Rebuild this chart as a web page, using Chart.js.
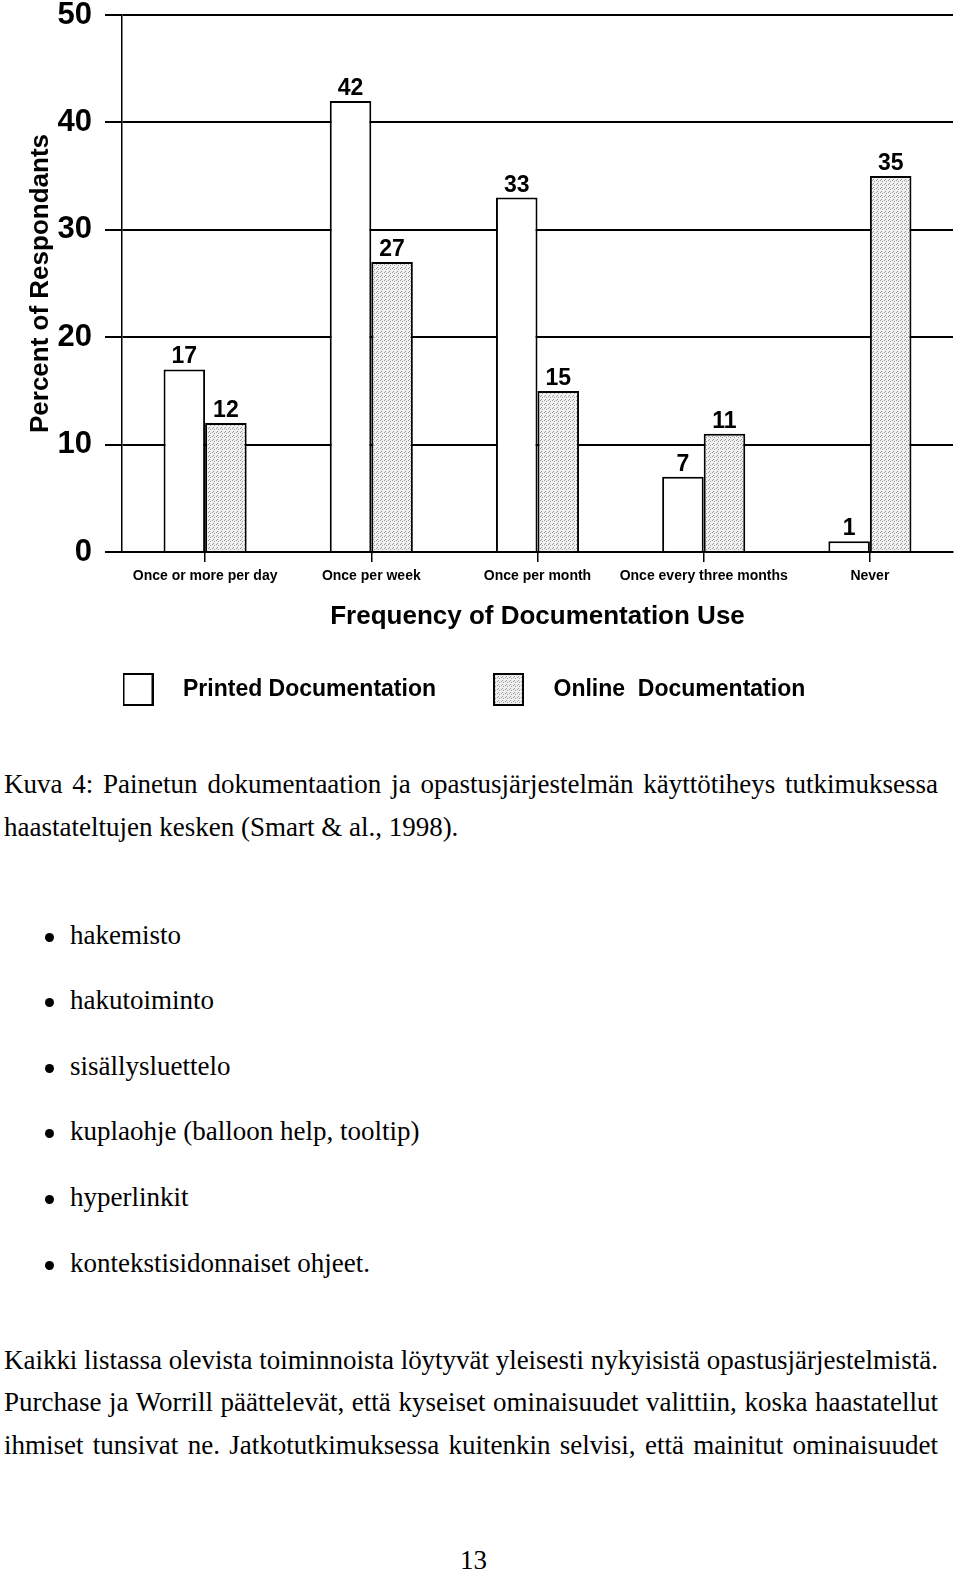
<!DOCTYPE html>
<html>
<head>
<meta charset="utf-8">
<script src="https://cdn.jsdelivr.net/npm/chart.js@4.4.0/dist/chart.umd.min.js"></script>
<style>
html,body{margin:0;padding:0;background:#fff;}
body{width:960px;height:1574px;position:relative;overflow:hidden;font-family:"Liberation Serif","Times New Roman",serif;color:#000;}
#c{position:absolute;left:0;top:0;}
.t{position:absolute;font-size:27px;line-height:27px;white-space:nowrap;}
.j{display:inline-block;}
.dot{position:absolute;width:9px;height:9px;border-radius:50%;background:#000;left:45px;}
</style>
</head>
<body>
<canvas id="c" width="960" height="711"></canvas>

<div class="t j" style="left:4px;top:771px;">Kuva 4: Painetun dokumentaation ja opastusjärjestelmän käyttötiheys tutkimuksessa</div>
<div class="t" style="left:4px;top:814px;">haastateltujen kesken (Smart &amp; al., 1998).</div>

<div class="dot" style="top:933px;"></div><div class="t" style="left:70px;top:922px;">hakemisto</div>
<div class="dot" style="top:998px;"></div><div class="t" style="left:70px;top:987px;">hakutoiminto</div>
<div class="dot" style="top:1064px;"></div><div class="t" style="left:70px;top:1053px;">sisällysluettelo</div>
<div class="dot" style="top:1129px;"></div><div class="t" style="left:70px;top:1118px;">kuplaohje (balloon help, tooltip)</div>
<div class="dot" style="top:1195px;"></div><div class="t" style="left:70px;top:1184px;">hyperlinkit</div>
<div class="dot" style="top:1261px;"></div><div class="t" style="left:70px;top:1250px;">kontekstisidonnaiset ohjeet.</div>

<div class="t j" style="left:4px;top:1347px;">Kaikki listassa olevista toiminnoista löytyvät yleisesti nykyisistä opastusjärjestelmistä.</div>
<div class="t j" style="left:4px;top:1389px;">Purchase ja Worrill päättelevät, että kyseiset ominaisuudet valittiin, koska haastatellut</div>
<div class="t j" style="left:4px;top:1432px;">ihmiset tunsivat ne. Jatkotutkimuksessa kuitenkin selvisi, että mainitut ominaisuudet</div>

<div class="t" style="left:460px;top:1547px;">13</div>

<script>
// ---- data ----
const categories = ['Once or more per day', 'Once per week', 'Once per month', 'Once every three months', 'Never'];
const printedValues = [17, 42, 33, 7, 1];
const onlineValues = [12, 27, 15, 11, 35];
const seriesNames = ['Printed Documentation', 'Online  Documentation'];
const yTicks = [0, 10, 20, 30, 40, 50];
const xTitle = 'Frequency of Documentation Use';
const yTitle = 'Percent of Respondants';

// ---- justify full text lines to the text width ----
const LINE_W = 934;
document.querySelectorAll('.j').forEach(el => {
  const w = el.getBoundingClientRect().width;
  const n = (el.textContent.match(/ /g) || []).length;
  if (w <= LINE_W) {
    el.style.wordSpacing = ((LINE_W - w) / n) + 'px';
  } else {
    el.style.transformOrigin = '0 0';
    el.style.transform = 'scaleX(' + (LINE_W / w) + ')';
  }
});

// ---- fonts ----
const mc = document.createElement('canvas').getContext('2d');
mc.font = 'bold 40px "Liberation Sans Narrow", monospace';
const wN = mc.measureText('Documentation').width;
mc.font = 'bold 40px monospace';
const wM = mc.measureText('Documentation').width;
const hasNarrow = Math.abs(wN - wM) > 1;
const SANS = "'Liberation Sans', Arial, Helvetica, sans-serif";
const NARROW = hasNarrow ? "'Liberation Sans Narrow', 'Liberation Sans', Arial, sans-serif" : SANS;
const legendSize = hasNarrow ? 28 : 23;
const xLabelSize = hasNarrow ? 16.5 : 14;

// ---- styles ----
const canvas = document.getElementById('c');
const ctx = canvas.getContext('2d');
function stippleTile() {
  const t = document.createElement('canvas');
  t.width = 4; t.height = 4;
  const g = t.getContext('2d');
  g.fillStyle = '#f0f0f0'; g.fillRect(0, 0, 4, 4);
  g.fillStyle = '#999999';
  g.fillRect(0, 0, 1, 1); g.fillRect(2, 1, 1, 1); g.fillRect(1, 3, 1, 1);
  return t;
}
const tile = stippleTile();
const stipple = ctx.createPattern(tile, 'repeat');
function legendIcon(kind) {
  const c = document.createElement('canvas');
  c.width = 31; c.height = 33;
  const g = c.getContext('2d');
  g.fillStyle = kind === 'pattern' ? g.createPattern(tile, 'repeat') : '#fff';
  g.fillRect(1, 1, 29, 31);
  g.lineWidth = 2; g.strokeStyle = '#000';
  g.strokeRect(1, 1, 29, 31);
  return c;
}
const legendIcons = [legendIcon('white'), legendIcon('pattern')];

const CANVAS_H = 711;
const legendPad = 39;
const legendBoxW = 90 - legendSize;
const legendLeft = 123 + 15 - legendBoxW / 2 - legendPad;
const xScaleH = (CANVAS_H - legendSize - legendPad - 10) - 552;

const valueLabels = {
  id: 'valueLabels',
  afterDatasetsDraw(chart) {
    const g = chart.ctx;
    g.save();
    g.font = 'bold 23px ' + SANS;
    g.fillStyle = '#000';
    g.textAlign = 'center';
    g.textBaseline = 'alphabetic';
    chart.data.datasets.forEach((ds, i) => {
      chart.getDatasetMeta(i).data.forEach((el, j) => {
        g.fillText(String(ds.data[j]), el.x, el.y - 6);
      });
    });
    g.restore();
  }
};
const legendPlace = {
  id: 'legendPlace',
  afterLayout(chart) { chart.legend.left = legendLeft; }
};

new Chart(canvas, {
  type: 'bar',
  data: {
    labels: categories,
    datasets: [
      { label: seriesNames[0], data: printedValues, backgroundColor: '#fff', borderColor: '#000', borderWidth: 2 },
      { label: seriesNames[1], data: onlineValues, backgroundColor: stipple, borderColor: '#000', borderWidth: 2 }
    ]
  },
  options: {
    responsive: false,
    devicePixelRatio: 1,
    animation: false,
    datasets: { bar: { categoryPercentage: 0.5, barPercentage: 1.0 } },
    layout: { padding: { top: 15, right: 7, left: 0, bottom: 0 } },
    plugins: {
      tooltip: { enabled: false },
      legend: {
        position: 'bottom',
        align: 'start',
        labels: {
          usePointStyle: true,
          pointStyleWidth: legendBoxW,
          padding: legendPad,
          color: '#000',
          font: { family: NARROW, size: legendSize, weight: 'bold' },
          generateLabels(chart) {
            const items = Chart.defaults.plugins.legend.labels.generateLabels(chart);
            items.forEach((it, i) => { it.pointStyle = legendIcons[i]; });
            return items;
          }
        }
      }
    },
    scales: {
      x: {
        afterFit(s) { s.height = xScaleH; },
        grid: { display: true, drawOnChartArea: false, drawTicks: true, tickLength: 10, offset: false, color: '#000', lineWidth: 1.5 },
        border: { display: true, color: '#000', width: 2 },
        ticks: { color: '#000', padding: 6, maxRotation: 0, autoSkip: false, font: { family: NARROW, size: xLabelSize, weight: 'bold' } },
        title: { display: true, text: xTitle, color: '#000', font: { family: SANS, size: 26, weight: 'bold' }, padding: { top: 0, bottom: 7 } }
      },
      y: {
        min: 0, max: 50,
        afterFit(s) { s.width = 122; },
        afterBuildTicks(s) { s.ticks = yTicks.map(v => ({ value: v })); },
        grid: { color: '#000', lineWidth: 2, tickLength: 17, tickColor: '#000', tickWidth: 2 },
        border: { display: true, color: '#000', width: 1.5 },
        ticks: { color: '#000', padding: 13, font: { family: SANS, size: 31, weight: 'bold', lineHeight: 0.13 } },
        title: { display: true, text: yTitle, color: '#000', font: { family: SANS, size: 26, weight: 'bold' }, padding: { top: 25, bottom: 0 } }
      }
    }
  },
  plugins: [valueLabels, legendPlace]
});
</script>
</body>
</html>
